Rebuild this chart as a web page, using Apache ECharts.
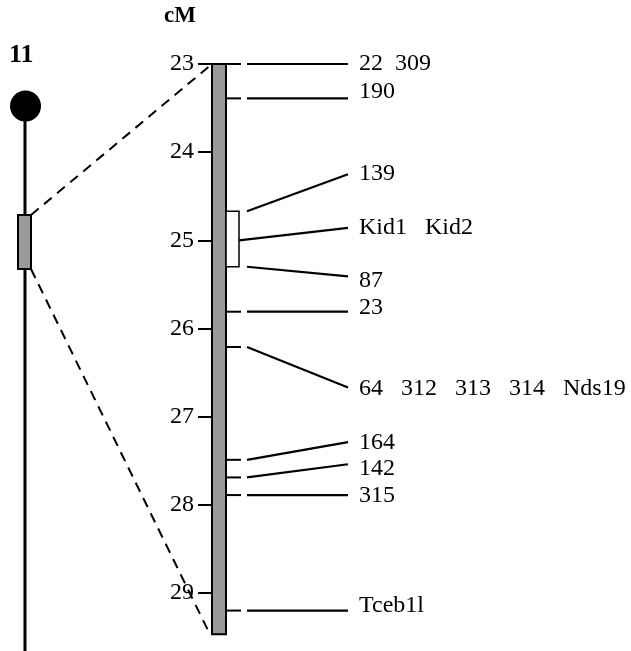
<!DOCTYPE html>
<html>
<head>
<meta charset="UTF-8">
<title>Chr 11 map</title>
<script src="https://cdn.jsdelivr.net/npm/echarts@6/dist/echarts.min.js"></script>
<style>
  html, body { margin: 0; padding: 0; background: #fff; }
  #main { width: 631px; height: 651px; }
</style>
</head>
<body>
<div id="main"></div>
<script>
// map positions in cM
var axisTicks = [23, 24, 25, 26, 27, 28, 29];
var mapRange = [23, 29.47];
var intervalCM = [24.67, 25.30];
var markerNames = ['22  309', '190', '139', 'Kid1   Kid2', '87', '23',
  '64   312   313   314   Nds19', '164', '142', '315', 'Tceb1l'];
var markerCM = [23.0, 23.39, 24.67, 25.0, 25.30, 25.81, 26.21, 27.49, 27.69, 27.89, 29.20];
var lineEndCM = [23.0, 23.39, 24.25, 24.86, 25.41, 25.81, 26.67, 27.29, 27.54, 27.89, 29.20];
var labelCM = [23.0, 23.31, 24.25, 24.86, 25.46, 25.77, 26.68, 27.30, 27.59, 27.90, 29.15];
var chromName = '11';

var FONT = '"Liberation Serif", "Times New Roman", serif';
var GRAY = '#9a9a9a';
var BAR_W = 14;

var myChart = echarts.init(document.getElementById('main'));

var markerData = markerCM.map(function (v, i) {
  return { value: [v, lineEndCM[i], labelCM[i]], name: markerNames[i] };
});

var option = {
  animation: false,
  grid: { left: 212, right: 0, top: 64, height: 573 },
  xAxis: { type: 'value', min: 0, max: 419, show: false },
  yAxis: {
    type: 'value', inverse: true, min: 23, max: 29.5, interval: 1,
    axisLine: { show: false },
    splitLine: { show: false },
    axisTick: { show: true, length: 14, customValues: axisTicks,
      lineStyle: { color: '#000', width: 2 } },
    axisLabel: { customValues: axisTicks, margin: 18, fontSize: 24,
      fontFamily: FONT, color: '#000' }
  },
  graphic: [
    { type: 'text', left: 164, top: 5,
      style: { text: 'cM', font: 'bold 23px ' + FONT, fill: '#000' } },
    { type: 'text', left: 9, top: 42,
      style: { text: chromName, font: 'bold 26px ' + FONT, fill: '#000' } }
  ],
  series: [
    {
      // chromosome ideogram and the zoom lines
      type: 'custom', clip: false, silent: true,
      data: [[mapRange[0], mapRange[1]]],
      renderItem: function (params, api) {
        var top = api.coord([0, api.value(0)]);
        var bot = api.coord([0, api.value(1)]);
        var cx = 25, boxT = 215, boxB = 269;
        return { type: 'group', children: [
          { type: 'line', shape: { x1: cx, y1: 106, x2: cx, y2: 651 },
            style: { stroke: '#000', lineWidth: 3 } },
          { type: 'circle', shape: { cx: cx + 0.5, cy: 106, r: 15.5 }, style: { fill: '#000' } },
          { type: 'rect', shape: { x: cx - 7, y: boxT, width: 13, height: boxB - boxT },
            style: { fill: GRAY, stroke: '#000', lineWidth: 2 } },
          { type: 'line', shape: { x1: cx + 6, y1: boxT, x2: top[0], y2: top[1] },
            style: { stroke: '#000', lineWidth: 2, lineDash: [10, 7] } },
          { type: 'line', shape: { x1: cx + 6, y1: boxB, x2: bot[0] - 2, y2: bot[1] },
            style: { stroke: '#000', lineWidth: 2, lineDash: [10, 7] } }
        ] };
      }
    },
    {
      // the map bar
      type: 'custom', clip: false, silent: true,
      data: [[mapRange[0], mapRange[1]]],
      renderItem: function (params, api) {
        var a = api.coord([0, api.value(0)]);
        var b = api.coord([BAR_W, api.value(1)]);
        return { type: 'rect', shape: { x: a[0], y: a[1], width: b[0] - a[0], height: b[1] - a[1] },
          style: { fill: GRAY, stroke: '#000', lineWidth: 2 } };
      }
    },
    {
      // bracket for the interval
      type: 'custom', clip: false, silent: true,
      data: [intervalCM],
      renderItem: function (params, api) {
        var a = api.coord([BAR_W, api.value(0)]);
        var b = api.coord([BAR_W + 13, api.value(1)]);
        return { type: 'rect', shape: { x: a[0], y: a[1], width: b[0] - a[0], height: b[1] - a[1] },
          style: { fill: '#fff', stroke: '#000', lineWidth: 1.5 } };
      }
    },
    {
      // markers
      type: 'custom', clip: false, silent: true,
      data: markerData,
      renderItem: function (params, api) {
        var pos = api.value(0), end = api.value(1), lab = api.value(2);
        var name = markerNames[params.dataIndex];
        var onEdge = Math.abs(pos - intervalCM[0]) < 1e-6 || Math.abs(pos - intervalCM[1]) < 1e-6;
        var inside = pos > intervalCM[0] && pos < intervalCM[1];
        var kids = [];
        var p0 = api.coord([BAR_W, pos]);
        if (!onEdge && !inside) {
          var p1 = api.coord([BAR_W + 15, pos]);
          kids.push({ type: 'line', shape: { x1: p0[0], y1: p0[1], x2: p1[0], y2: p1[1] },
            style: { stroke: '#000', lineWidth: 2 } });
        }
        var s = api.coord([inside ? BAR_W + 13 : 35, pos]);
        var e = api.coord([136, end]);
        kids.push({ type: 'line', shape: { x1: s[0], y1: s[1], x2: e[0], y2: e[1] },
          style: { stroke: '#000', lineWidth: 2.2 } });
        var t = api.coord([147, lab]);
        kids.push({ type: 'text', x: t[0], y: t[1],
          style: { text: name, font: '24px ' + FONT, fill: '#000', verticalAlign: 'middle', align: 'left' } });
        return { type: 'group', children: kids };
      }
    }
  ]
};
myChart.setOption(option);
</script>
</body>
</html>
